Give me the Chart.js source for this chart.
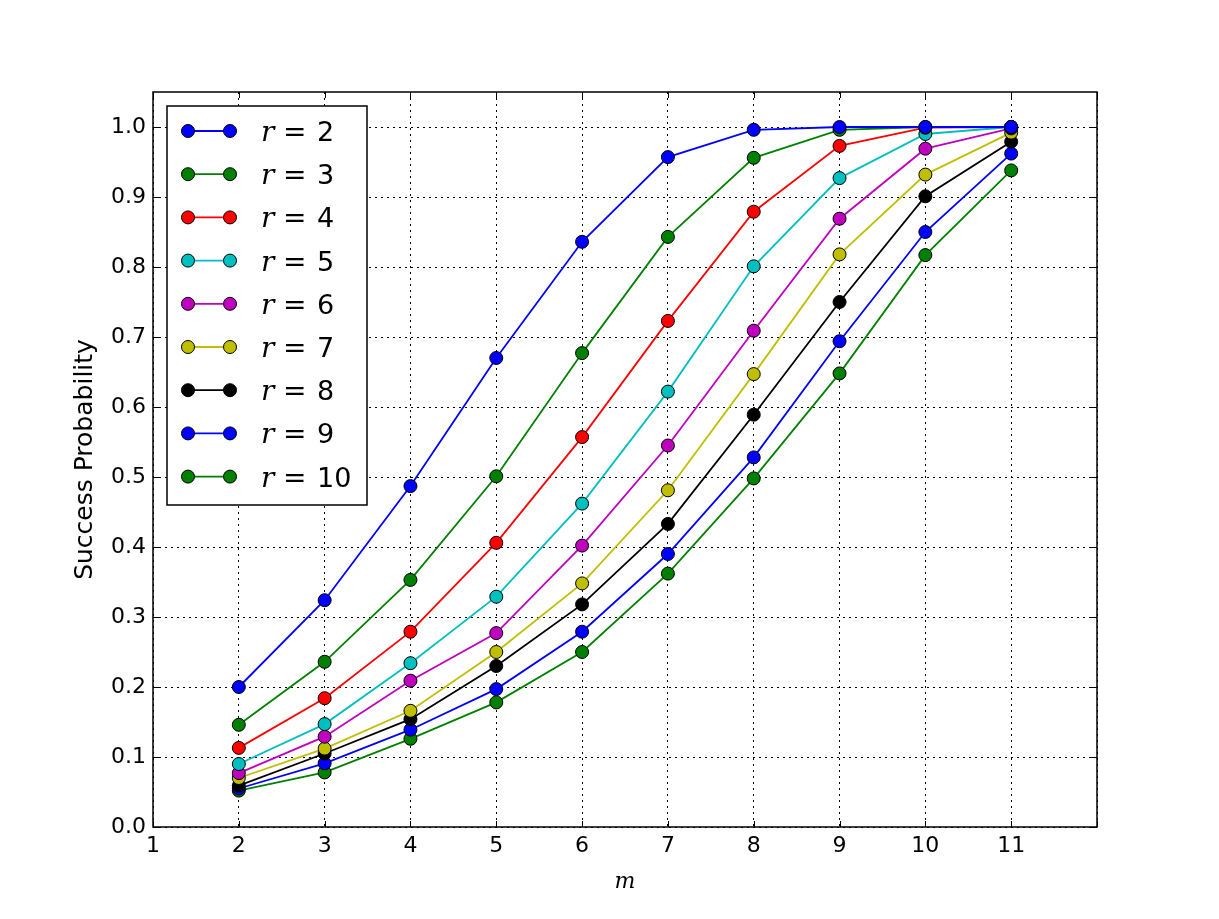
<!DOCTYPE html>
<html>
<head>
<meta charset="utf-8">
<script src="https://cdn.jsdelivr.net/npm/chart.js@4.4.0/dist/chart.umd.min.js"></script>
<style>
  html, body { margin: 0; padding: 0; background: #fff; }
  #wrap { width: 1219px; height: 919px; }
</style>
</head>
<body>
<div id="wrap"><canvas id="chart" width="1219" height="919"></canvas></div>
<script>
// x values (m) and tick range
const mValues = [2, 3, 4, 5, 6, 7, 8, 9, 10, 11];
const xMin = 1, xMax = 12;
const yMin = 0, yMax = 1.05;

// success probability per r
const r2  = [0.200, 0.324, 0.487, 0.670, 0.836, 0.957, 0.996, 1.000, 1.000, 1.000];
const r3  = [0.146, 0.236, 0.353, 0.501, 0.677, 0.843, 0.956, 0.996, 1.000, 1.000];
const r4  = [0.113, 0.184, 0.279, 0.406, 0.557, 0.723, 0.879, 0.973, 0.999, 1.000];
const r5  = [0.090, 0.147, 0.234, 0.329, 0.462, 0.622, 0.801, 0.927, 0.990, 1.000];
const r6  = [0.077, 0.129, 0.209, 0.277, 0.402, 0.545, 0.709, 0.869, 0.969, 0.998];
const r7  = [0.070, 0.112, 0.166, 0.250, 0.348, 0.481, 0.647, 0.818, 0.932, 0.992];
const r8  = [0.059, 0.105, 0.154, 0.230, 0.318, 0.433, 0.589, 0.750, 0.901, 0.979];
const r9  = [0.055, 0.091, 0.139, 0.197, 0.279, 0.390, 0.528, 0.694, 0.850, 0.962];
const r10 = [0.052, 0.078, 0.126, 0.178, 0.250, 0.362, 0.498, 0.648, 0.817, 0.938];

const rLabels = ['2', '3', '4', '5', '6', '7', '8', '9', '10'];
const series = [r2, r3, r4, r5, r6, r7, r8, r9, r10];
const colors = ['#0000ff', '#008000', '#ff0000', '#00bfbf', '#bf00bf', '#bfbf00', '#000000', '#0000ff', '#008000'];

const datasets = series.map((vals, i) => ({
    label: 'r = ' + rLabels[i],
    data: mValues.map((m, j) => ({ x: m, y: vals[j] })),
    borderColor: colors[i],
    backgroundColor: colors[i],
    borderWidth: 1.8,
    pointRadius: 6.5,
    pointHoverRadius: 6.5,
    pointBorderColor: '#000',
    pointBorderWidth: 1,
    tension: 0
}));

// axes frame + inward ticks on all four sides (matplotlib style)
const framePlugin = {
    id: 'frame',
    afterDatasetsDraw(chart) {
        const { ctx, chartArea: a, scales } = chart;
        const len = 6;
        ctx.save();
        ctx.strokeStyle = '#000';
        ctx.lineWidth = 1;
        ctx.beginPath();
        scales.x.ticks.forEach(t => {
            const px = Math.round(scales.x.getPixelForValue(t.value)) + 0.5;
            ctx.moveTo(px, a.bottom); ctx.lineTo(px, a.bottom - len);
            ctx.moveTo(px, a.top); ctx.lineTo(px, a.top + len);
        });
        scales.y.ticks.forEach(t => {
            const py = Math.round(scales.y.getPixelForValue(t.value)) + 0.5;
            ctx.moveTo(a.left, py); ctx.lineTo(a.left + len, py);
            ctx.moveTo(a.right, py); ctx.lineTo(a.right - len, py);
        });
        ctx.stroke();
        ctx.lineWidth = 1.5;
        ctx.strokeRect(a.left, a.top, a.right - a.left, a.bottom - a.top);
        ctx.restore();
    }
};

// legend: line with a marker at each end, "r = n" text
const legendPlugin = {
    id: 'mplLegend',
    afterDraw(chart) {
        const { ctx, chartArea: a } = chart;
        const boxX = a.left + 14, boxY = a.top + 14, boxW = 200, boxH = 399;
        ctx.save();
        ctx.fillStyle = '#fff';
        ctx.fillRect(boxX, boxY, boxW, boxH);
        ctx.strokeStyle = '#000';
        ctx.lineWidth = 1.5;
        ctx.strokeRect(boxX, boxY, boxW, boxH);
        chart.data.datasets.forEach((ds, i) => {
            const y = boxY + 25 + i * 43.2;
            const x1 = boxX + 21, x2 = boxX + 63;
            ctx.strokeStyle = ds.borderColor;
            ctx.lineWidth = 1.8;
            ctx.beginPath();
            ctx.moveTo(x1, y); ctx.lineTo(x2, y);
            ctx.stroke();
            [x1, x2].forEach(x => {
                ctx.beginPath();
                ctx.arc(x, y, 6.5, 0, Math.PI * 2);
                ctx.fillStyle = ds.backgroundColor;
                ctx.fill();
                ctx.strokeStyle = '#000';
                ctx.lineWidth = 1;
                ctx.stroke();
            });
            ctx.fillStyle = '#000';
            ctx.textBaseline = 'alphabetic';
            ctx.textAlign = 'left';
            ctx.font = 'italic 28px "DejaVu Serif"';
            ctx.fillText('r', boxX + 94, y + 10);
            ctx.font = '28px "DejaVu Serif"';
            ctx.fillText('=', boxX + 116, y + 10);
            ctx.font = '27px "DejaVu Sans"';
            ctx.fillText(rLabels[i], boxX + 150, y + 10);
        });
        ctx.restore();
    }
};

const gridStyle = {
    color: '#000',
    lineWidth: 1,
    drawTicks: false
};

new Chart(document.getElementById('chart'), {
    type: 'line',
    data: { datasets },
    options: {
        responsive: false,
        animation: false,
        events: [],
        layout: { padding: { left: 66, right: 122, top: 92, bottom: 0 } },
        plugins: {
            legend: { display: false },
            tooltip: { enabled: false }
        },
        scales: {
            x: {
                type: 'linear',
                min: xMin,
                max: xMax,
                ticks: {
                    stepSize: 1,
                    color: '#000',
                    padding: 6,
                    font: { family: 'DejaVu Sans', size: 22 },
                    callback: v => (v >= xMax ? '' : String(v))
                },
                grid: gridStyle,
                border: { display: false, dash: [2, 4] },
                title: {
                    display: true,
                    text: 'm',
                    color: '#000',
                    font: { family: 'DejaVu Serif', style: 'italic', size: 22 },
                    padding: { top: 0, bottom: 24 }
                },
                afterFit(scale) { scale.height = 92; }
            },
            y: {
                min: yMin,
                max: yMax,
                afterBuildTicks(scale) {
                    scale.ticks = scale.ticks.filter(t => t.value <= 1.0001);
                },
                ticks: {
                    stepSize: 0.1,
                    color: '#000',
                    padding: 7,
                    font: { family: 'DejaVu Sans', size: 22 },
                    callback: v => Number(v).toFixed(1)
                },
                grid: gridStyle,
                border: { display: false, dash: [2, 4] },
                title: {
                    display: true,
                    text: 'Success Probability',
                    color: '#000',
                    font: { family: 'DejaVu Sans', size: 25 },
                    padding: { top: 4, bottom: 4 }
                },
                afterFit(scale) { scale.width = 87; }
            }
        }
    },
    plugins: [framePlugin, legendPlugin]
});
</script>
</body>
</html>
